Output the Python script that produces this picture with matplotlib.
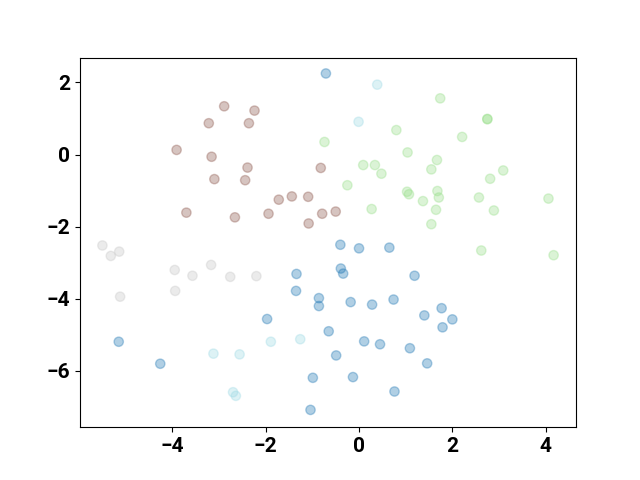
import numpy as np
import matplotlib.pyplot as plt

plt.rcParams['font.family'] = ['Roboto', 'DejaVu Sans']

# label 0 (blue)
x0 = [-0.71, -0.40, 0.00, 0.65, -0.39, -0.34, 1.19, -0.18, 0.28, 0.74, 1.40, 1.77,
      2.00, 1.79, -0.65, 0.11, 0.45, 1.09, -0.49, 1.46, -0.13, 0.76,
      -1.34, -1.35, -0.86, -0.86, -1.97, -5.15, -4.26, -0.99, -1.04]
y0 = [2.25, -2.50, -2.60, -2.58, -3.16, -3.30, -3.36, -4.09, -4.16, -4.02, -4.46, -4.26,
      -4.57, -4.79, -4.90, -5.18, -5.26, -5.37, -5.57, -5.79, -6.17, -6.57,
      -3.31, -3.78, -3.98, -4.20, -4.56, -5.19, -5.80, -6.19, -7.08]
# label 1 (green)
x1 = [-0.74, 1.74, 2.75, 2.75, 0.80, 2.21, 1.04, 1.67, 1.55, 0.09, 0.34, 0.48, 3.09,
      2.81, -0.25, 1.03, 1.07, 1.68, 1.71, 1.37, 2.57, 4.06, 0.27, 1.65, 2.89,
      1.55, 2.62, 4.17]
y1 = [0.35, 1.56, 0.98, 0.99, 0.68, 0.49, 0.06, -0.15, -0.41, -0.29, -0.29, -0.53, -0.44,
      -0.67, -0.85, -1.03, -1.10, -1.01, -1.19, -1.29, -1.19, -1.22, -1.51, -1.53, -1.55,
      -1.93, -2.66, -2.79]
# label 2 (brown)
x2 = [-2.89, -2.24, -3.22, -2.36, -3.91, -3.16, -2.39, -0.82, -3.10, -2.44, -1.72,
      -1.44, -1.09, -3.70, -2.66, -1.94, -0.79, -1.08, -0.50]
y2 = [1.34, 1.22, 0.87, 0.87, 0.13, -0.06, -0.36, -0.37, -0.68, -0.71, -1.25,
      -1.16, -1.17, -1.61, -1.74, -1.64, -1.64, -1.91, -1.58]
# label 3 (gray)
x3 = [-5.50, -5.32, -5.14, -3.95, -3.57, -3.17, -2.76, -2.20, -3.94, -5.12]
y3 = [-2.52, -2.81, -2.69, -3.20, -3.36, -3.06, -3.39, -3.37, -3.78, -3.94]
# label 4 (light cyan)
x4 = [0.39, -0.01, -1.89, -1.26, -3.12, -2.56, -2.70, -2.64]
y4 = [1.94, 0.91, -5.19, -5.12, -5.52, -5.54, -6.59, -6.69]

xs = x0 + x1 + x2 + x3 + x4
ys = y0 + y1 + y2 + y3 + y4
labels = [0] * len(x0) + [1] * len(x1) + [2] * len(x2) + [3] * len(x3) + [4] * len(x4)

fig, ax = plt.subplots(figsize=(6.4, 4.8), dpi=100)
ax.scatter(xs, ys, c=labels, cmap='tab20', alpha=0.35, s=45)
ax.set_xlim(-5.98, 4.65)
ax.set_ylim(-7.56, 2.69)
ax.set_xticks([-4, -2, 0, 2, 4])
ax.set_yticks([-6, -4, -2, 0, 2])
for lab in ax.get_xticklabels() + ax.get_yticklabels():
    lab.set_fontsize(15)
    lab.set_fontweight('bold')

plt.savefig('out.png')
